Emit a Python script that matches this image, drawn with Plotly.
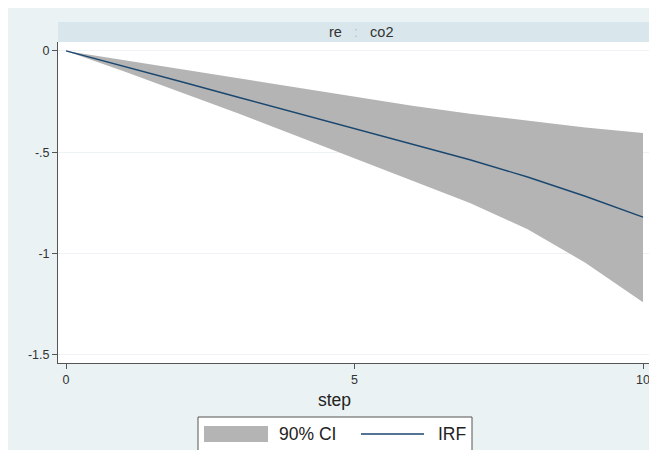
import plotly.graph_objects as go

# ---- data ----
step = [0, 1, 2, 3, 4, 5, 6, 7, 8, 9, 10]
irf = [0, -0.075, -0.152, -0.23, -0.306, -0.383, -0.46, -0.537, -0.622, -0.717, -0.82]
ci_upper = [0, -0.045, -0.09, -0.135, -0.18, -0.225, -0.27, -0.31, -0.345, -0.378, -0.405]
ci_lower = [0, -0.10, -0.205, -0.31, -0.42, -0.53, -0.64, -0.75, -0.88, -1.045, -1.24]
y_ticks = [0, -0.5, -1, -1.5]
y_tick_labels = ["0", "-.5", "-1", "-1.5"]
x_ticks = [0, 5, 10]
x_tick_labels = ["0", "5", "10"]
panel_title = "re\u00a0\u00a0\u00a0<span style='color:#b8c2c6'>:</span>\u00a0\u00a0\u00a0co2"
x_title = "step"
legend_labels = ["90% CI", "IRF"]

OFF = 8  # page body margin
W, H = 649, 442
# plot area in screenshot pixels
SX0, SX1, SY0, SY1 = 58, 652, 42, 363
L, R, T, B = SX0 - OFF, W - (SX1 - OFF), SY0 - OFF, H - (SY1 - OFF)
PW, PH = W - L - R, H - T - B


def px(x):
    return (x - SX0) / PW


def py(y):
    return (SY1 - y) / PH


BG = "#eaf2f3"
STRIP = "#d9e7ec"
BAND = "#b4b4b4"
NAVY = "#1a476f"
FONT = "Liberation Sans, Arial, sans-serif"
TXT = "#222222"

fig = go.Figure()
fig.add_trace(go.Scatter(x=step, y=ci_upper, mode="lines", line=dict(width=0, color=BAND),
                         showlegend=False, hoverinfo="skip"))
fig.add_trace(go.Scatter(x=step, y=ci_lower, mode="lines", line=dict(width=0, color=BAND),
                         fill="tonexty", fillcolor=BAND, name=legend_labels[0], showlegend=False))
fig.add_trace(go.Scatter(x=step, y=irf, mode="lines", line=dict(width=1.4, color=NAVY),
                         name=legend_labels[1], showlegend=False))

shapes = [
    dict(type="rect", xref="paper", yref="paper", x0=0, x1=1, y0=0, y1=1,
         fillcolor="white", line=dict(width=0), layer="below"),
    dict(type="rect", xref="paper", yref="paper", x0=0, x1=1, y0=1, y1=py(22),
         fillcolor=STRIP, line=dict(width=0), layer="below"),
    # legend box
    dict(type="rect", xref="paper", yref="paper", x0=px(198), x1=px(472), y0=py(456), y1=py(417),
         fillcolor="white", line=dict(width=1, color="#555555")),
    # legend swatch
    dict(type="rect", xref="paper", yref="paper", x0=px(204), x1=px(268), y0=py(442), y1=py(426),
         fillcolor=BAND, line=dict(width=0)),
    # legend line
    dict(type="line", xref="paper", yref="paper", x0=px(361), x1=px(424), y0=py(434), y1=py(434),
         line=dict(width=1.4, color=NAVY)),
]

annotations = [
    dict(text=panel_title, xref="paper", yref="paper", x=px(361), y=py(31.5), showarrow=False,
         xanchor="center", yanchor="middle", font=dict(size=14.5, color="#333333", family=FONT)),
    dict(text=x_title, xref="paper", yref="paper", x=px(334), y=py(400), showarrow=False,
         xanchor="center", yanchor="middle", font=dict(size=17.5, color=TXT, family=FONT)),
    dict(text=legend_labels[0], xref="paper", yref="paper", x=px(277), y=py(434), showarrow=False,
         xanchor="left", yanchor="middle", font=dict(size=17.5, color=TXT, family=FONT)),
    dict(text=legend_labels[1], xref="paper", yref="paper", x=px(436), y=py(434), showarrow=False,
         xanchor="left", yanchor="middle", font=dict(size=17.5, color=TXT, family=FONT)),
]

fig.update_layout(
    width=W, height=H,
    margin=dict(l=L, r=R, t=T, b=B, pad=0),
    paper_bgcolor=BG, plot_bgcolor="white",
    showlegend=False,
    shapes=shapes, annotations=annotations,
    font=dict(family=FONT, color="#333333", size=12),
    xaxis=dict(range=[-0.139, 10.156], tickmode="array", tickvals=x_ticks, ticktext=x_tick_labels,
               showgrid=False, zeroline=False, showline=True, linecolor="#555555", linewidth=1,
               ticks="outside", ticklen=5, tickcolor="#555555", tickfont=dict(size=12.5, color="#333333")),
    yaxis=dict(range=[-1.54, 0.044], tickmode="array", tickvals=y_ticks, ticktext=y_tick_labels,
               showgrid=True, gridcolor="#eef4f5", gridwidth=1, zeroline=False, showline=True,
               linecolor="#555555", linewidth=1, ticks="outside", ticklen=5, tickcolor="#555555",
               tickfont=dict(size=12.5, color="#333333")),
)

fig.write_html("out.html")
